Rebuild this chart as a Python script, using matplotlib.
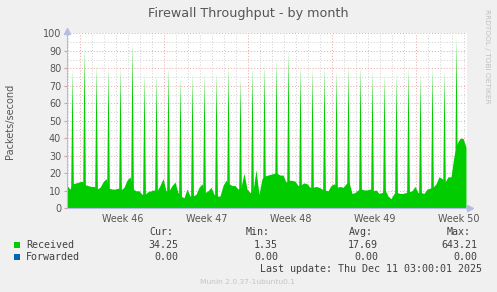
import numpy as np
import matplotlib
matplotlib.use('Agg')
import matplotlib.pyplot as plt

# canvas in pixels, like the munin png
W, H = 497, 292

# baseline packets/second, one value every 6 hours, starting Sun Nov 8 ~21:00
base_start = -1.108   # days, relative to Mon Nov 10 00:00 (start of week 46)
received = [
    13, 11, 14, 14.5, 15, 15.5, 13.5, 13, 12.5, 12.5,
    11, 12, 15, 17, 11.5, 11, 11, 11.5, 10.5, 12,
    16, 18, 11, 10, 10, 8, 8, 9.5, 10, 10.5,
    10, 13, 17, 10, 10, 13, 15, 9, 7, 6,
    11, 7, 7, 8, 12, 14, 9, 10, 12, 8,
    7, 7, 13, 16, 14, 13, 13, 11, 12, 20,
    11, 9, 10, 22, 8, 17, 18.5, 19, 19.5, 20,
    20, 19, 19, 15, 16, 16, 15.5, 13, 13.5, 14.5,
    14, 12, 12, 12.5, 12, 11, 10.5, 10, 13, 14,
    12, 12.5, 12, 14, 15, 8.5, 9, 10.5, 11, 10.5,
    10.5, 11, 10, 10.5, 8.5, 9, 10.5, 7, 5.5, 8.5,
    9, 8.5, 8.5, 9, 9.5, 10, 12.5, 9, 9, 8.5,
    11, 11.5, 12, 14, 18, 17, 15, 18, 18, 30,
    37, 40, 40, 35,
]

# one short burst every morning (~07:30), first one on Sun Nov 9
spike_days = list(range(-1, 32))
spike_peaks = [
    80, 92, 82, 81, 81, 95, 77, 77, 81, 75, 77,
    77, 77, 81, 75, 81, 83, 86, 91, 82, 80, 81,
    79, 82, 82, 79, 77, 77, 81, 77, 81, 79, 98,
]
spike_hour = 0.31

week_labels = ['Week 46', 'Week 47', 'Week 48', 'Week 49', 'Week 50']

legend_rows = [
    ('Received', '#00CC00', ['34.25', '1.35', '17.69', '643.21']),
    ('Forwarded', '#0066B3', ['0.00', '0.00', '0.00', '0.00']),
]
legend_heads = ['Cur:', 'Min:', 'Avg:', 'Max:']

GREEN = '#00CC00'
TXT = '#555555'
AXC = '#B4BCE6'


def px(x, y):
    return x / W, 1 - y / H


fig = plt.figure(figsize=(W / 100, H / 100), dpi=100, facecolor='#F0F0F0')
ax = fig.add_axes([66.7 / W, 1 - 208.3 / H, 400 / W, 175 / H])
ax.set_facecolor('white')

x0 = (66.7 - 80.3) / 12
x1 = (466.7 - 80.3) / 12
ax.set_xlim(x0, x1)
ax.set_ylim(0, 100)

# grid: gray every day / 5 units, red every week / 10 units
for d in range(-1, 33):
    red = d % 7 == 0
    ax.axvline(d, color='#F2A0A0' if red else '#D0D0D0', lw=0.7,
               ls=(0, (1, 2)), zorder=1.5 if red else 1)
for v in range(5, 101, 5):
    red = v % 10 == 0
    ax.axhline(v, color='#F2A0A0' if red else '#D0D0D0', lw=0.7,
               ls=(0, (1, 2)), zorder=1.5 if red else 1)

# data
t = base_start + 0.25 * np.arange(len(received))
ax.fill_between(t, received, color=GREEN, lw=0, zorder=3)
for d, p in zip(spike_days, spike_peaks):
    ts = d + spike_hour
    ax.fill_between([ts - 0.13, ts, ts + 0.13], [0, p, 0], color=GREEN,
                    lw=0, zorder=3)

# axes styling
for s in ['top', 'right']:
    ax.spines[s].set_visible(False)
for s in ['left', 'bottom']:
    ax.spines[s].set_color(AXC)
    ax.spines[s].set_linewidth(0.8)
    ax.spines[s].set_zorder(5)
ax.plot([x0], [101.5], marker='^', ms=4, color=AXC, clip_on=False, zorder=6)
ax.plot([x1 + 0.25], [0], marker='>', ms=4, color=AXC, clip_on=False, zorder=6)

ax.set_yticks(range(0, 101, 10))
ax.tick_params(axis='y', length=2, color='#D0A0A0', labelsize=6.9,
               labelcolor=TXT, pad=2)
ax.set_xticks([3.5, 10.5, 17.5, 24.5, 31.5])
ax.set_xticklabels(week_labels)
ax.tick_params(axis='x', length=0, labelsize=6.9, labelcolor=TXT, pad=4)
for lab in ax.get_xticklabels():
    lab.set_clip_on(False)

fig.text(*px(10, 121), 'Packets/second', rotation=90, ha='center',
         va='center', fontsize=7, color=TXT)
fig.text(*px(248.5, 13), 'Firewall Throughput - by month', ha='center',
         va='center', fontsize=9.2, color=TXT)
fig.text(*px(487.5, 56), 'RRDTOOL / TOBI OETIKER', ha='center', va='center',
         rotation=-90, fontsize=5.3, color='#C0C0C0')

# legend block (monospace, munin style)
mono = 'DejaVu Sans Mono'
lx = [149, 246, 349, 447]
rx = [178, 278, 378, 477]
for h, x in zip(legend_heads, lx):
    fig.text(*px(x, 232), h, ha='left', va='center', fontsize=7.2,
             family=mono, color='#404040')
for i, (name, col, vals) in enumerate(legend_rows):
    y = 245 + 12 * i
    fig.patches.append(plt.Rectangle(px(14, y + 3), 6 / W, 6 / H,
                                     transform=fig.transFigure,
                                     facecolor=col, edgecolor='none'))
    fig.text(*px(26, y), name, ha='left', va='center', fontsize=7.2,
             family=mono, color='#404040')
    for v, x in zip(vals, rx):
        fig.text(*px(x, y), v, ha='right', va='center', fontsize=7.2,
                 family=mono, color='#404040')

fig.text(*px(482, 269), 'Last update: Thu Dec 11 03:00:01 2025', ha='right',
         va='center', fontsize=7.2, family=mono, color='#404040')
fig.text(*px(248, 282), 'Munin 2.0.37-1ubuntu0.1', ha='center', va='center',
         fontsize=5.4, color='#C4C4C4')

fig.savefig('out.png', dpi=100, facecolor=fig.get_facecolor())
